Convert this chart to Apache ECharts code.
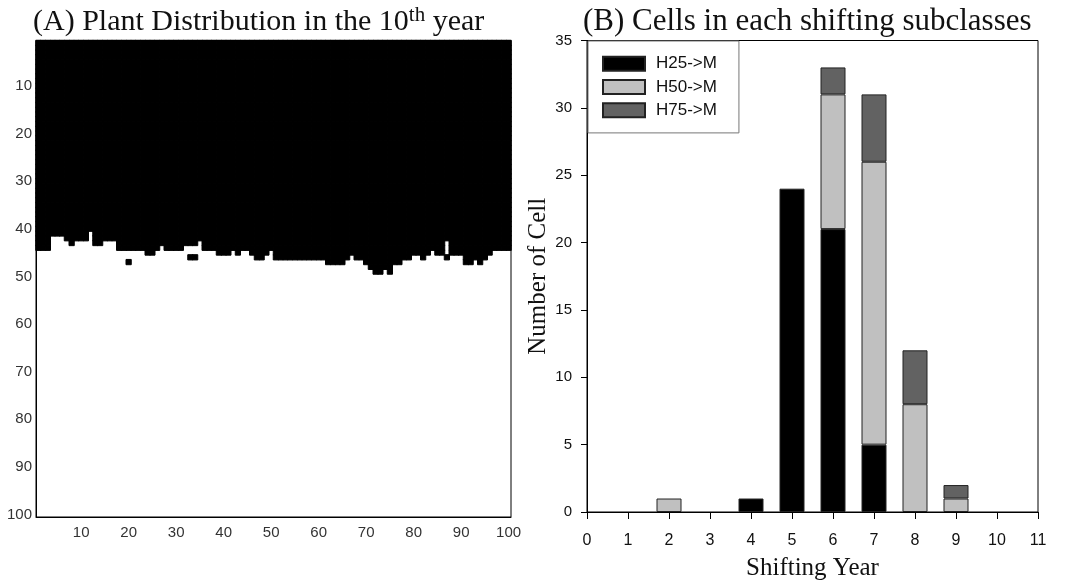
<!DOCTYPE html>
<html>
<head>
<meta charset="utf-8">
<script src="https://cdn.jsdelivr.net/npm/echarts@6/dist/echarts.min.js"></script>
<style>
  html, body { margin: 0; padding: 0; background: #fff; }
  #main { width: 1074px; height: 581px; }
</style>
</head>
<body>
<div id="main"></div>
<script>
// (A) lowest black row in each of the 100 columns (rows counted from the top)
const edgeRow = [
  44, 44, 44, 41, 41, 41, 42, 43, 42, 42,
  42, 40, 43, 43, 42, 42, 42, 44, 44, 44,
  44, 44, 44, 45, 45, 44, 43, 44, 44, 44,
  44, 43, 43, 43, 42, 44, 44, 44, 45, 45,
  45, 44, 45, 44, 44, 45, 46, 46, 45, 44,
  46, 46, 46, 46, 46, 46, 46, 46, 46, 46,
  46, 47, 47, 47, 47, 46, 45, 46, 46, 47,
  48, 49, 49, 48, 49, 47, 47, 46, 46, 45,
  45, 46, 45, 44, 45, 45, 42, 45, 45, 45,
  47, 47, 46, 47, 46, 45, 44, 44, 44, 44
];
// isolated black cells below the edge: [column, row]
const strayCells = [[20, 47], [33, 46], [34, 46], [87, 46]];

// (B) stacked bars
const years = ['0', '1', '2', '3', '4', '5', '6', '7', '8', '9', '10', '11'];
const h25 = [0, 0, 0, 0, 1, 24, 21, 5, 0, 0, 0, 0];
const h50 = [0, 0, 1, 0, 0, 0, 10, 21, 8, 1, 0, 0];
const h75 = [0, 0, 0, 0, 0, 0, 2, 5, 4, 1, 0, 0];

const cols = Array.from({ length: 100 }, (_, i) => String(i + 1));
const cells = [];
edgeRow.forEach((last, c) => {
  for (let r = 1; r <= last; r++) cells.push([c, r - 1, 1]);
});
strayCells.forEach(([c, r]) => cells.push([c - 1, r - 1, 1]));

const every10 = (i) => (i + 1) % 10 === 0;
const serif = 'Liberation Serif';
const sans = 'Liberation Sans';

const chart = echarts.init(document.getElementById('main'));
chart.setOption({
  animation: false,
  backgroundColor: '#fff',
  title: [
    {
      left: 33, top: 5, padding: 0,
      text: '{a|(A) Plant Distribution in the 10}{s|th}{a| year}',
      textStyle: {
        rich: {
          a: { fontFamily: serif, fontSize: 30, fontWeight: 'normal', lineHeight: 34, color: '#111' },
          s: { fontFamily: serif, fontSize: 21, fontWeight: 'normal', lineHeight: 21, color: '#111', verticalAlign: 'top' }
        }
      }
    },
    {
      left: 583, top: 5, padding: 0,
      text: '(B) Cells in each shifting subclasses',
      textStyle: { fontFamily: serif, fontSize: 31, lineHeight: 34, fontWeight: 'normal', color: '#111' }
    }
  ],
  grid: [
    { left: 36, top: 40.5, width: 475, height: 476.5, outerBoundsMode: 'none', show: true, borderColor: '#000', borderWidth: 1, backgroundColor: '#fff' },
    { left: 587, top: 40.5, width: 451, height: 471.5, outerBoundsMode: 'none', show: true, borderColor: '#000', borderWidth: 1 }
  ],
  legend: {
    data: ['H25->M', 'H50->M', 'H75->M'],
    orient: 'vertical',
    left: 588, top: 41,
    padding: [14, 22, 14, 14],
    icon: 'rect',
    itemWidth: 42, itemHeight: 14, itemGap: 6,
    borderColor: '#777', borderWidth: 1, borderRadius: 0,
    backgroundColor: '#fff',
    selectedMode: false,
    textStyle: { fontFamily: sans, fontSize: 17, lineHeight: 17.3, color: '#111', padding: [0, 0, 0, 6] }
  },
  visualMap: {
    show: false, seriesIndex: 0, min: 0, max: 1,
    inRange: { color: ['#000', '#000'] }
  },
  xAxis: [
    {
      gridIndex: 0, type: 'category', data: cols, position: 'bottom',
      axisLine: { lineStyle: { color: '#000' } },
      axisTick: { inside: true, length: 4, alignWithLabel: true, interval: every10, lineStyle: { color: '#000' } },
      axisLabel: { interval: every10, margin: 8, fontFamily: sans, fontSize: 15, color: '#333' },
      splitLine: { show: false }
    },
    {
      gridIndex: 1, type: 'category', data: years, boundaryGap: false,
      name: 'Shifting Year', nameLocation: 'middle', nameGap: 44,
      nameTextStyle: { fontFamily: serif, fontSize: 25, color: '#111' },
      axisLine: { lineStyle: { color: '#000' } },
      axisTick: { length: 7, lineStyle: { color: '#000' } },
      axisLabel: { margin: 21, fontFamily: sans, fontSize: 16, color: '#111' },
      splitLine: { show: false }
    }
  ],
  yAxis: [
    {
      gridIndex: 0, type: 'category', data: cols, inverse: true,
      axisLine: { lineStyle: { color: '#000' } },
      axisTick: { inside: true, length: 4, alignWithLabel: true, interval: every10, lineStyle: { color: '#000' } },
      axisLabel: { interval: every10, margin: 4, fontFamily: sans, fontSize: 15, color: '#333' },
      splitLine: { show: false }
    },
    {
      gridIndex: 1, type: 'value', min: 0, max: 35, interval: 5,
      name: 'Number of Cell', nameLocation: 'middle', nameGap: 35,
      nameTextStyle: { fontFamily: serif, fontSize: 25, color: '#111' },
      axisLine: { show: true, lineStyle: { color: '#000' } },
      axisTick: { show: true, length: 6, lineStyle: { color: '#000' } },
      axisLabel: { margin: 15, fontFamily: sans, fontSize: 15, color: '#111' },
      splitLine: { show: false }
    }
  ],
  series: [
    {
      type: 'heatmap', xAxisIndex: 0, yAxisIndex: 0,
      data: cells,
      itemStyle: { borderColor: '#000', borderWidth: 1 },
      emphasis: { disabled: true }
    },
    {
      name: 'H25->M', type: 'bar', xAxisIndex: 1, yAxisIndex: 1, stack: 'b', barWidth: 25,
      data: h25.map(v => v || '-'),
      itemStyle: { color: '#000', borderColor: '#222', borderWidth: 1 }
    },
    {
      name: 'H50->M', type: 'bar', xAxisIndex: 1, yAxisIndex: 1, stack: 'b', barWidth: 25,
      data: h50.map(v => v || '-'),
      itemStyle: { color: '#c0c0c0', borderColor: '#222', borderWidth: 1 }
    },
    {
      name: 'H75->M', type: 'bar', xAxisIndex: 1, yAxisIndex: 1, stack: 'b', barWidth: 25,
      data: h75.map(v => v || '-'),
      itemStyle: { color: '#626262', borderColor: '#222', borderWidth: 1 }
    }
  ]
});
</script>
</body>
</html>
